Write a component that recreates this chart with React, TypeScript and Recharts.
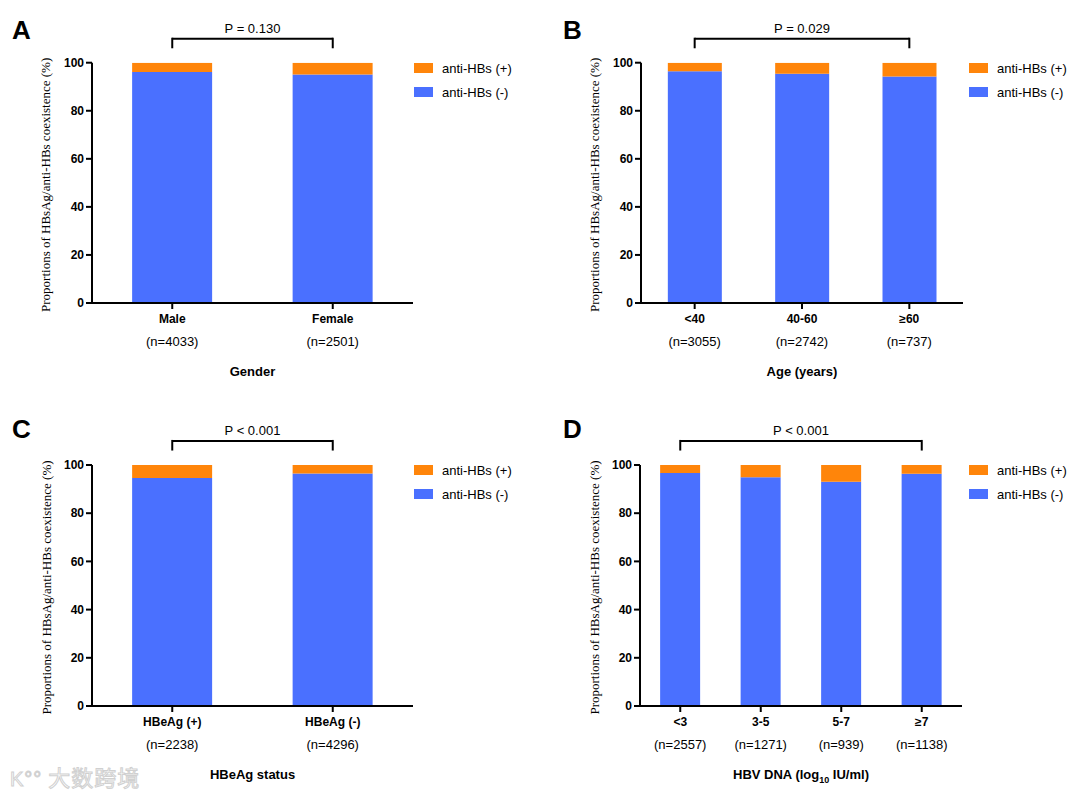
import React from 'react';
import { BarChart, Bar, XAxis, YAxis, ReferenceLine, Legend } from 'recharts';

const genderCats = ['Male', 'Female'];
const genderN = ['4033', '2501'];
const genderNeg = [96.1, 95.1];
const genderPos = [3.9, 4.9];

const ageCats = ['<40', '40-60', '≥60'];
const ageN = ['3055', '2742', '737'];
const ageNeg = [96.4, 95.4, 94.3];
const agePos = [3.6, 4.6, 5.7];

const hbeagCats = ['HBeAg (+)', 'HBeAg (-)'];
const hbeagN = ['2238', '4296'];
const hbeagNeg = [94.6, 96.5];
const hbeagPos = [5.4, 3.5];

const dnaCats = ['<3', '3-5', '5-7', '≥7'];
const dnaN = ['2557', '1271', '939', '1138'];
const dnaNeg = [96.7, 94.9, 93.0, 96.4];
const dnaPos = [3.3, 5.1, 7.0, 3.6];

const yTicks = [0, 20, 40, 60, 80, 100];
const seriesLabels = ['anti-HBs (+)', 'anti-HBs (-)'];
const ORANGE = '#FF850A';
const BLUE = '#4A70FF';
const SANS = 'Arial, "Liberation Sans", sans-serif';
const SERIF = '"Times New Roman", "Liberation Serif", serif';
const Y_LABEL = 'Proportions of HBsAg/anti-HBs coexistence (%)';

const W = 540;
const H = 399;
const YW = 60;
const XH = 80;

type PanelProps = {
  cats: string[];
  ns: string[];
  neg: number[];
  pos: number[];
  pText: string;
  title: React.ReactNode;
  letter: string;
  ox: number;
  oy: number;
  plotL: number;
  plotR: number;
  plotT: number;
  plotB: number;
  legendX: number;
  legendY: number;
};

const Panel = (p: PanelProps) => {
  const data = p.cats.map((c, i) => ({ cat: c, neg: p.neg[i], pos: p.pos[i] }));
  const first = p.cats[0];
  const last = p.cats[p.cats.length - 1];
  const axisStyle = { stroke: '#000', strokeWidth: 2 };

  const CatTick = (props: any) => {
    const { x, y, payload, index } = props;
    return (
      <g>
        <text x={x} y={y + 14} textAnchor="middle" fontSize={12} fontWeight="bold" fontFamily={SANS} fill="#000">
          {payload.value}
        </text>
        <text x={x} y={y + 37} textAnchor="middle" fontSize={13} fontFamily={SANS} fill="#000">
          (n={p.ns[index]})
        </text>
      </g>
    );
  };

  const XTitle = (props: any) => {
    const vb = props.viewBox;
    return (
      <text x={vb.x + vb.width / 2} y={vb.y + 73} textAnchor="middle" fontSize={13} fontWeight="bold" fontFamily={SANS} fill="#000">
        {p.title}
      </text>
    );
  };

  const YTitle = (props: any) => {
    const vb = props.viewBox;
    const cx = vb.x + vb.width - 46;
    const cy = vb.y + vb.height / 2 + 2;
    return (
      <text x={cx} y={cy} transform={`rotate(-90, ${cx}, ${cy})`} textAnchor="middle" dominantBaseline="central" fontSize={13} fontFamily={SERIF} fill="#000">
        {Y_LABEL}
      </text>
    );
  };

  const LegendContent = () => (
    <div style={{ fontFamily: SANS, fontSize: 13, color: '#000' }}>
      {[ORANGE, BLUE].map((col, i) => (
        <div key={i} style={{ display: 'flex', alignItems: 'center', height: 24 }}>
          <div style={{ width: 19, height: 10, background: col, marginRight: 9 }} />
          <span style={{ whiteSpace: 'nowrap' }}>{seriesLabels[i]}</span>
        </div>
      ))}
    </div>
  );

  return (
    <div style={{ position: 'absolute', left: p.ox, top: p.oy, width: W, height: H }}>
      <BarChart
        width={W}
        height={H}
        data={data}
        barCategoryGap="25%"
        margin={{ top: p.plotT, right: W - p.plotR, left: p.plotL - YW, bottom: H - p.plotB - XH }}
      >
        <XAxis
          dataKey="cat"
          height={XH}
          axisLine={axisStyle}
          tickLine={axisStyle}
          tickSize={6}
          tickMargin={0}
          interval={0}
          tick={<CatTick />}
          label={{ content: <XTitle /> } as any}
        />
        <YAxis
          width={YW}
          domain={[0, 100]}
          ticks={yTicks}
          interval={0}
          axisLine={axisStyle}
          tickLine={axisStyle}
          tickSize={6}
          tickMargin={2}
          tick={{ fill: '#000', fontSize: 12, fontWeight: 'bold', fontFamily: SANS }}
          allowDataOverflow
          label={{ content: <YTitle /> } as any}
        />
        <Legend
          layout="vertical"
          align="center"
          verticalAlign="middle"
          wrapperStyle={{ left: p.legendX, top: p.legendY, width: 'auto' }}
          content={<LegendContent />}
        />
        <Bar dataKey="neg" stackId="a" fill={BLUE} isAnimationActive={false} />
        <Bar dataKey="pos" stackId="a" fill={ORANGE} isAnimationActive={false} />
        <ReferenceLine
          segment={[{ x: first, y: 110 }, { x: last, y: 110 }]}
          ifOverflow="visible"
          stroke="#000"
          strokeWidth={2}
          label={{ value: p.pText, position: 'top', offset: 6, fill: '#000', fontSize: 13, fontFamily: SANS }}
        />
        <ReferenceLine segment={[{ x: first, y: 106 }, { x: first, y: 110.4 }]} ifOverflow="visible" stroke="#000" strokeWidth={2} />
        <ReferenceLine segment={[{ x: last, y: 106 }, { x: last, y: 110.4 }]} ifOverflow="visible" stroke="#000" strokeWidth={2} />
      </BarChart>
      <div style={{ position: 'absolute', left: p.letter === 'A' || p.letter === 'C' ? 12 : 23, top: 17, fontFamily: SANS, fontWeight: 'bold', fontSize: 26, color: '#000', lineHeight: 1 }}>
        {p.letter}
      </div>
    </div>
  );
};

const DnaTitle = (
  <>
    <tspan>HBV DNA (log</tspan>
    <tspan fontSize={9} dy={4}>10</tspan>
    <tspan dy={-4}> IU/ml)</tspan>
  </>
);

export default function App() {
  return (
    <div style={{ position: 'absolute', left: 0, top: 0, width: 1080, height: 798, background: '#fff', overflow: 'hidden' }}>
      <Panel cats={genderCats} ns={genderN} neg={genderNeg} pos={genderPos} pText="P = 0.130" title="Gender" letter="A"
        ox={0} oy={0} plotL={92} plotR={413} plotT={62.7} plotB={303} legendX={414} legendY={56} />
      <Panel cats={ageCats} ns={ageN} neg={ageNeg} pos={agePos} pText="P = 0.029" title="Age (years)" letter="B"
        ox={540} oy={0} plotL={101} plotR={423} plotT={62.7} plotB={303} legendX={429} legendY={56} />
      <Panel cats={hbeagCats} ns={hbeagN} neg={hbeagNeg} pos={hbeagPos} pText="P < 0.001" title="HBeAg status" letter="C"
        ox={0} oy={399} plotL={92} plotR={413} plotT={66} plotB={307} legendX={414} legendY={59} />
      <Panel cats={dnaCats} ns={dnaN} neg={dnaNeg} pos={dnaPos} pText="P < 0.001" title={DnaTitle} letter="D"
        ox={540} oy={399} plotL={100} plotR={422} plotT={66} plotB={307} legendX={429} legendY={59} />
      <div style={{ position: 'absolute', left: 10, top: 760, fontFamily: '"Noto Sans CJK SC", sans-serif', fontSize: 22, color: '#fff', WebkitTextStroke: '1px #d0d0d0', letterSpacing: 1 }}>
        <span style={{ fontFamily: SANS, fontSize: 20, marginRight: 6 }}>K°°</span>大数跨境
      </div>
    </div>
  );
}
